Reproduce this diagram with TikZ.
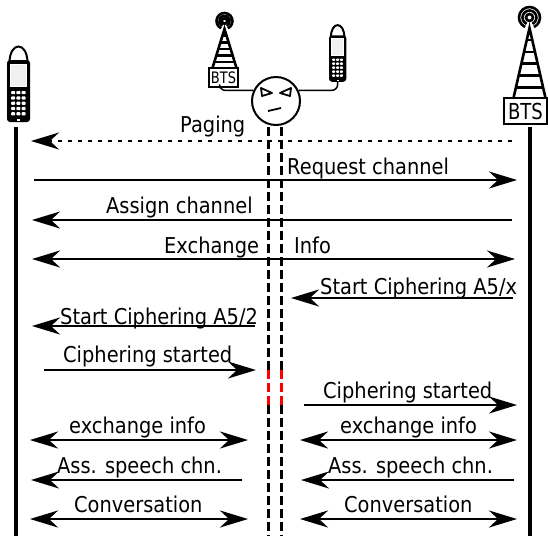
\documentclass[tikz,border=0pt]{standalone}
\usepackage{fontspec}
\setmainfont{DejaVu Sans}
\newfontfamily\labelfont[FakeStretch=0.89]{DejaVu Sans}
\newfontfamily\btsfont[FakeStretch=0.82]{DejaVu Sans}
\usetikzlibrary{arrows.meta, calc, positioning}

\tikzset{
  Head/.tip={Stealth[length=28pt,width=17pt,inset=9pt]},
  lifeline/.style={line width=3.2pt},
  tapline/.style={line width=3pt, dash pattern=on 9pt off 4pt},
  msg/.style={line width=2.5pt, -Head},
  duplex/.style={line width=2.5pt, Head-Head},
  msglabel/.style={inner sep=0pt, anchor=base west, font=\labelfont\fontsize{21.8}{26}\selectfont},
  mastline/.style={line width=2.6pt},
  btsbox/.style={draw, line width=2pt, inner sep=0pt, fill=white},
  wire/.style={line width=1.5pt, rounded corners=6pt},
  % mobile phone, origin at top left of the antenna loop
  handset/.pic={
    \draw[line width=2pt] (2.5,18) .. controls (2.5,-4) and (20.5,-4) .. (20.5,18);
    \fill[rounded corners=3pt] (0,15) rectangle (23,77);
    \filldraw[fill=gray!12, draw=white, line width=0.5pt] (3.5,19) rectangle (19.5,41);
    \foreach \c in {0,1,2}
      \foreach \r in {0,...,4}
        \fill[white, rounded corners=0.8pt] (4.2+\c*5.2,46+\r*5.3) rectangle ++(4,3.2);
    \fill[white] (10,74) rectangle (13,76.2);
    \coordinate (-plug) at (11.5,77);
  },
}

% antenna mast: x, ring y, ring radius, foot y, half width of foot
\newcommand{\mast}[5]{%
  \draw[mastline] (#1,#2) circle[radius=#3/3];
  \draw[mastline] (#1,#2) ++(115:2*#3/3) arc[start angle=115, end angle=425, radius=2*#3/3];
  \draw[mastline] (#1,#2) ++(115:#3) arc[start angle=115, end angle=425, radius=#3];
  \draw[mastline] (#1-#5,#4) -- (#1,#2+#3) -- (#1+#5,#4);
  \foreach \t in {0.17,0.34,0.51,0.68,0.85}
    \draw[mastline] ({#1-\t*#5},{#2+#3+\t*(#4-#2-#3)}) -- ({#1+\t*#5},{#2+#3+\t*(#4-#2-#3)});
}

\begin{document}
\begin{tikzpicture}[x=1pt,y=-1pt]
  \useasboundingbox (0,0) rectangle (548,536);

  % the three stations on top
  \pic (victim) at (7,45) {handset};
  \pic[scale=0.75] (spy) at (329,24) {handset};
  \mast{224.5}{21}{8}{68}{12}
  \node[btsbox, minimum width=29pt, minimum height=19pt, font=\btsfont\fontsize{15.8}{16}\selectfont] (fakebts) at (223.5,77.5) {BTS};
  \mast{529.5}{17.5}{10.5}{98}{16}
  \node[btsbox, minimum width=43pt, minimum height=26pt, font=\btsfont\fontsize{22}{22}\selectfont] (realbts) at (525.5,111) {BTS};

  % attacker in the middle
  \node[draw, circle, line width=2pt, minimum size=48pt, inner sep=0pt] (mitm) at (276,101) {};
  \begin{scope}[shift={(mitm.center)}, line width=1.8pt, line join=round]
    \draw (-15,-13) -- (-4,-8) -- (-14,-5) -- cycle;
    \draw (15,-13) -- (4,-8) -- (14,-5) -- cycle;
    \draw (-8,10) -- (5,7);
  \end{scope}
  \draw[wire] ([xshift=-4pt]fakebts.south) |- (mitm.155);
  \draw[wire] (spy-plug) |- (mitm.25);

  % lifelines
  \coordinate (top) at (0,127);
  \coordinate (ms) at (16,536);
  \coordinate (tapL) at (268.5,536);
  \coordinate (tapR) at (281,536);
  \coordinate (net) at (530,536);
  \foreach \n/\y in {paging/141, request/180, assign/220, exchange/259, cipherx/298,
                     cipher2/326, startedL/370, startedR/405, info/440, speech/480, talk/519}
    \coordinate (\n) at (0,\y);

  \draw[lifeline] (ms |- top) -- (ms);
  \draw[lifeline] (net |- top) -- (net);
  \foreach \l in {tapL,tapR} {
    \draw[tapline] (\l |- top) -- (\l |- startedL);
    \draw[tapline, red] (\l |- startedL) -- (\l |- startedR);
    \draw[tapline] (\l |- startedR) -- (\l);
  }

  % messages
  \draw[msg, dash pattern=on 4pt off 6pt] ([xshift=-18pt]net |- paging) -- ([xshift=15pt]ms |- paging);
  \draw[msg] ([xshift=18pt]ms |- request) -- ([xshift=-13pt]net |- request);
  \draw[msg] ([xshift=-18pt]net |- assign) -- ([xshift=16pt]ms |- assign);
  \draw[duplex] ([xshift=16pt]ms |- exchange) -- ([xshift=-15pt]net |- exchange);
  \draw[msg] ([xshift=-17pt]net |- cipherx) -- ([xshift=10pt]tapR |- cipherx);
  \draw[msg] ([xshift=-13.5pt]tapL |- cipher2) -- ([xshift=16pt]ms |- cipher2);
  \draw[msg] ([xshift=28pt]ms |- startedL) -- ([xshift=-12.5pt]tapL |- startedL);
  \draw[msg] ([xshift=23pt]tapR |- startedR) -- ([xshift=-13pt]net |- startedR);
  \draw[duplex] ([xshift=14pt]ms |- info) -- ([xshift=-20.5pt]tapL |- info);
  \draw[duplex] ([xshift=19pt]tapR |- info) -- ([xshift=-13pt]net |- info);
  \draw[msg] ([xshift=-26.5pt]tapL |- speech) -- ([xshift=15pt]ms |- speech);
  \draw[msg] ([xshift=-16pt]net |- speech) -- ([xshift=20pt]tapR |- speech);
  \draw[duplex] ([xshift=14pt]ms |- talk) -- ([xshift=-20.5pt]tapL |- talk);
  \draw[duplex] ([xshift=19pt]tapR |- talk) -- ([xshift=-13pt]net |- talk);

  % labels
  \node[msglabel] (l-paging) at (180,132) {Paging};
  \node[msglabel] (l-request) at (287,174) {Request channel};
  \node[msglabel] (l-assign) at (106,213) {Assign channel};
  \node[msglabel] (l-exch) at (164,253) {Exchange};
  \node[msglabel] (l-info) at (294,253) {Info};
  \node[msglabel] (l-cipherx) at (320,294) {Start Ciphering A5/x};
  \node[msglabel] (l-cipher2) at (60,324) {Start Ciphering A5/2};
  \node[msglabel] (l-startedL) at (63,362) {Ciphering started};
  \node[msglabel] (l-startedR) at (323,398) {Ciphering started};
  \node[msglabel] (l-infoL) at (69,433) {exchange info};
  \node[msglabel] (l-infoR) at (340,433) {exchange info};
  \node[msglabel] (l-speechL) at (57,473) {Ass. speech chn.};
  \node[msglabel] (l-speechR) at (328,473) {Ass. speech chn.};
  \node[msglabel] (l-talkL) at (74,512) {Conversation};
  \node[msglabel] (l-talkR) at (344,512) {Conversation};
\end{tikzpicture}
\end{document}
